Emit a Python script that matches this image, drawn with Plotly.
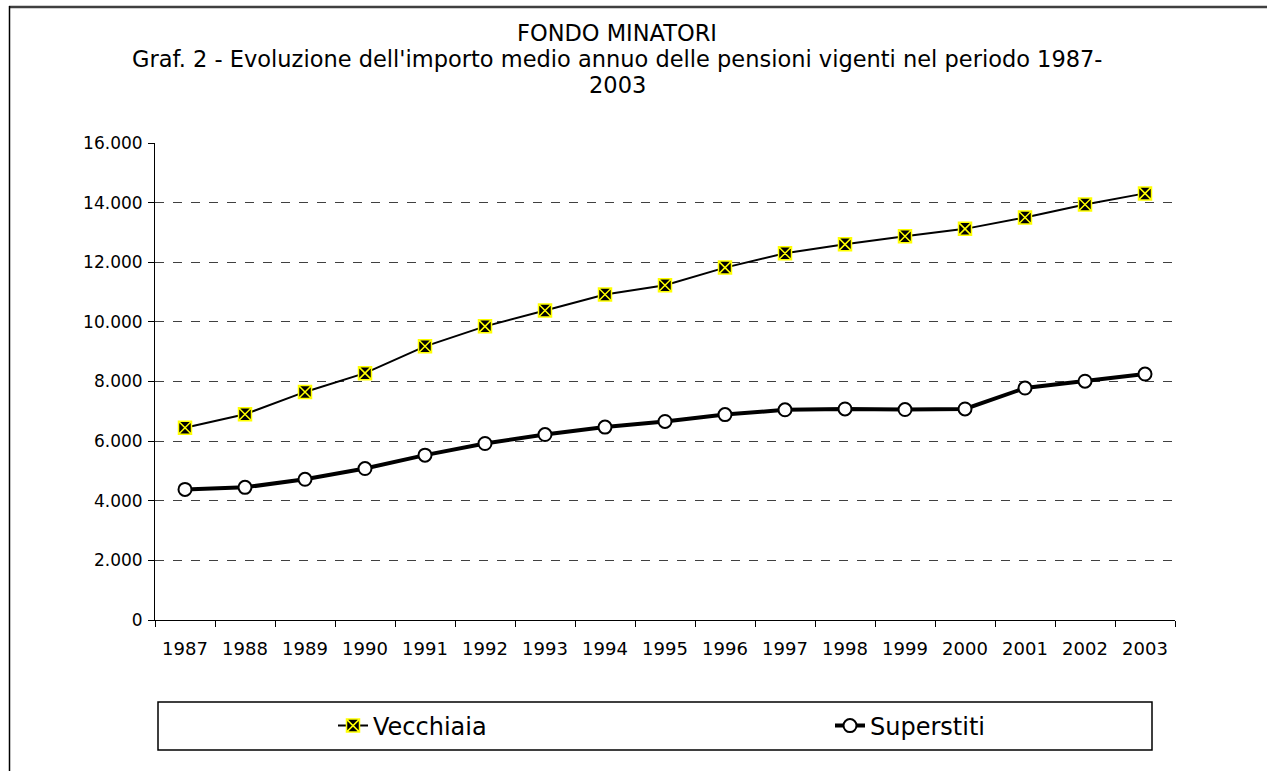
import plotly.graph_objects as go

years = [str(y) for y in range(1987, 2004)]
vecchiaia = [6450, 6900, 7650, 8280, 9180, 9850, 10380, 10920, 11230, 11820,
             12300, 12600, 12870, 13120, 13500, 13940, 14310]
superstiti = [4380, 4450, 4720, 5080, 5530, 5920, 6220, 6470, 6660, 6890,
              7050, 7080, 7060, 7080, 7780, 8010, 8250]
y_ticks = [0, 2000, 4000, 6000, 8000, 10000, 12000, 14000, 16000]
title_lines = ["FONDO MINATORI",
               "Graf. 2 - Evoluzione dell'importo medio annuo delle pensioni vigenti nel periodo 1987-",
               "2003"]

FONT = "DejaVu Sans"
W, H = 1267, 771
L, R, T, B = 155, 1175, 143, 620


def px_x(p):
    return (p - L) / (R - L)


def px_y(p):
    return (B - p) / (B - T)


fig = go.Figure()
fig.add_trace(go.Scatter(
    x=years, y=vecchiaia, name="Vecchiaia", mode="lines+markers",
    line=dict(color="black", width=2),
    marker=dict(symbol="square-x", size=13, color="black",
                line=dict(color="#ffff00", width=1.5)),
    legend="legend"))
fig.add_trace(go.Scatter(
    x=years, y=superstiti, name="Superstiti", mode="lines+markers",
    line=dict(color="black", width=4),
    marker=dict(symbol="circle", size=13, color="white",
                line=dict(color="black", width=2)),
    legend="legend2"))

shapes = [
    # legend box
    dict(type="rect", xref="paper", yref="paper",
         x0=px_x(158), x1=px_x(1152), y0=px_y(750), y1=px_y(702),
         line=dict(color="black", width=1.5), fillcolor="white", layer="below"),
    # outer frame (top and left)
    dict(type="line", xref="paper", yref="paper",
         x0=px_x(9), x1=px_x(1267), y0=px_y(7), y1=px_y(7),
         line=dict(color="#404040", width=2.5)),
    dict(type="line", xref="paper", yref="paper",
         x0=px_x(9.5), x1=px_x(9.5), y0=px_y(6), y1=px_y(771),
         line=dict(color="black", width=1.5)),
]

title_y = [33, 59, 85]
annotations = [
    dict(text=t, xref="paper", yref="paper", x=px_x(617), y=px_y(yy),
         xanchor="center", yanchor="middle", showarrow=False,
         font=dict(family=FONT, size=22.5, color="black"))
    for t, yy in zip(title_lines, title_y)
]

legend_common = dict(orientation="h", xanchor="left", yanchor="middle",
                     bgcolor="rgba(0,0,0,0)", borderwidth=0,
                     font=dict(family=FONT, size=24, color="black"))

fig.update_layout(
    width=W, height=H,
    margin=dict(l=L, r=W - R, t=T, b=H - B, pad=0),
    paper_bgcolor="white", plot_bgcolor="white",
    font=dict(family=FONT, size=18, color="black"),
    separators=",.",
    showlegend=True,
    legend=dict(x=px_x(333), y=px_y(726), **legend_common),
    legend2=dict(x=px_x(830), y=px_y(726), **legend_common),
    shapes=shapes,
    annotations=annotations,
    xaxis=dict(type="category", showgrid=False, showline=True,
               linecolor="black", linewidth=1, ticks="outside",
               tickson="boundaries", ticklen=6, tickcolor="black",
               ticklabelstandoff=12,
               tickfont=dict(family=FONT, size=18, color="black"),
               range=[-0.5, len(years) - 0.5], zeroline=False),
    yaxis=dict(range=[0, 16000], tickvals=y_ticks, tickformat=",d",
               showgrid=True, gridcolor="#404040", griddash="dash", gridwidth=1,
               showline=True, linecolor="black", linewidth=1,
               ticks="outside", ticklen=6, tickcolor="black",
               ticklabelstandoff=2,
               tickfont=dict(family=FONT, size=17, color="black"),
               zeroline=False),
)

fig.write_html("out.html", config={"displayModeBar": False},
               post_script="document.body.style.margin='0px';")
